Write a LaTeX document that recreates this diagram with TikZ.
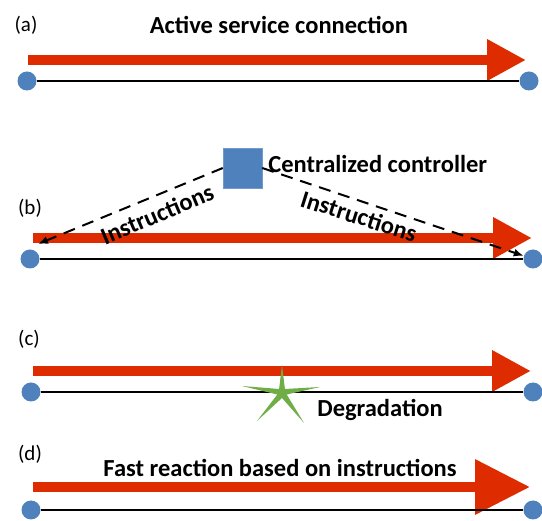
\documentclass[tikz,border=0pt]{standalone}
\usepackage{fontspec}
\setmainfont{Carlito}
\usetikzlibrary{arrows.meta}
\usetikzlibrary{positioning}
\definecolor{linkred}{RGB}{222,44,0}
\definecolor{nodeblue}{RGB}{79,129,189}
\definecolor{stargreen}{RGB}{112,173,71}
\tikzset{endpt/.style={circle, fill=nodeblue, minimum size=19pt, inner sep=0pt}}
\tikzset{fiber/.style={line width=2.5pt, black}}
\tikzset{conn/.style={linkred, line width=10pt, -{Triangle[length=39pt,width=39pt]}}}
\tikzset{bigconn/.style={conn, -{Triangle[length=55pt,width=53pt]}}}
\tikzset{ctrlbox/.style={rectangle, fill=nodeblue, draw=nodeblue!80!white,
   minimum width=39pt, minimum height=40pt, inner sep=0pt}}
\tikzset{instr/.style={dash pattern=on 12pt off 8pt, line width=2pt,
   -{Latex[length=10pt,width=8pt]}}}
\tikzset{tag/.style={font=\fontsize{21}{25}\selectfont, inner sep=0pt}}
\tikzset{title/.style={font=\fontsize{24.5}{29}\selectfont\bfseries, inner sep=0pt}}

\begin{document}
\begin{tikzpicture}[x=1pt, y=-1pt]

    \useasboundingbox (0,0) rectangle (542,521);

    % (a)
    \node[tag] (taga) at (26,25) {(a)};
    \node[title] (ta) at (279,25) {Active service connection};
    \coordinate (as) at (28,60);
    \coordinate (at) at (526,60);
    \draw[conn] (as) -- (at);
    \node[endpt] (a1) at (27,81) {};
    \node[endpt] (a2) at (529,81) {};
    \draw[fiber] (a1) -- (a2);

    % (b)
    \node[tag] (tagb) at (30,208) {(b)};
    \coordinate (bs) at (33,238);
    \coordinate (bt) at (532,238);
    \draw[conn] (bs) -- (bt);
    \node[endpt] (b1) at (30,259) {};
    \node[endpt] (b2) at (533,259) {};
    \draw[fiber] (b1) -- (b2);
    \node[ctrlbox] (ctrl) at (242.5,168) {};
    \node[title, right=6pt of ctrl, yshift=4pt] (ctrltxt) {Centralized controller};
    \coordinate (insl) at (38,244);
    \draw[instr] (ctrl.west) -- (insl);
    \draw[instr] (ctrl.east) -- (b2);
    \node[title, rotate=23] (il) at (157,214) {Instructions};
    \node[title, rotate=-17.5] (ir) at (359,216) {Instructions};

    % (c)
    \node[tag] (tagc) at (29,339) {(c)};
    \coordinate (cs) at (33,371);
    \coordinate (ct) at (531,371);
    \draw[conn] (cs) -- (ct);
    \node[endpt] (c1) at (31,392) {};
    \node[endpt] (c2) at (533,392) {};
    \draw[fiber] (c1) -- (c2);
    \begin{scope}[shift={(282,393)}]
      \fill[stargreen] (0,-28) -- (2.9,-4) -- (38,-6) -- (4.7,1.5) -- (22,30)
        -- (0,5) -- (-25,28) -- (-4.7,1.5) -- (-40,-7) -- (-2.9,-4) -- cycle;
    \end{scope}
    \node[title] (degr) at (380,410) {Degradation};

    % (d)
    \node[tag] (tagd) at (30,454) {(d)};
    \node[title] (td) at (280,468) {Fast reaction based on instructions};
    \coordinate (ds) at (33,487);
    \coordinate (dt) at (530,487);
    \draw[bigconn] (ds) -- (dt);
    \node[endpt] (d1) at (31,510) {};
    \node[endpt] (d2) at (533,510) {};
    \draw[fiber] (d1) -- (d2);

\end{tikzpicture}
\end{document}
